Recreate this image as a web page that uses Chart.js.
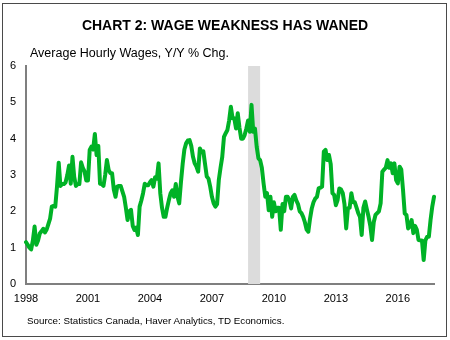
<!DOCTYPE html>
<html>
<head>
<meta charset="utf-8">
<script src="https://cdn.jsdelivr.net/npm/chart.js@4"></script>
<style>
  body { margin: 0; background: #fff; font-family: "Liberation Sans", Arial, sans-serif; }
  #wrap { position: relative; width: 450px; height: 340px; }
  #frame { position: absolute; left: 2px; top: 3px; width: 445px; height: 334px; box-sizing: border-box; border: 1.5px solid #4a4a4a; }
  #chart { position: absolute; left: 0; top: 0; }
  .txt { position: absolute; white-space: nowrap; color: #000; line-height: 1; }
  #title { left: 0; width: 450px; text-align: center; top: 18px; font-size: 14px; font-weight: bold; }
  #sub { left: 30px; top: 47px; font-size: 12.5px; }
  #src { left: 27px; top: 316px; font-size: 9.8px; }
</style>
</head>
<body>
<div id="wrap">
  <div id="frame"></div>
  <canvas id="chart" width="450" height="340"></canvas>
  <div class="txt" id="title">CHART 2: WAGE WEAKNESS HAS WANED</div>
  <div class="txt" id="sub">Average Hourly Wages, Y/Y % Chg.</div>
  <div class="txt" id="src">Source: Statistics Canada, Haver Analytics, TD Economics.</div>
</div>
<script>
// monthly, starting Jan 1998
var startYear = 1998;
var wages = [
  1.15, 1.08, 1.0, 0.95, 1.2, 1.58, 1.08, 1.2, 1.39, 1.45, 1.52, 1.42,   // 1998
  1.5, 1.65, 1.8, 2.13, 2.15, 2.13, 2.68, 3.34, 2.7, 2.75, 2.75, 2.8,    // 1999
  3.0, 3.26, 2.76, 3.5, 2.95, 2.7, 2.75, 2.75, 3.35, 3.2, 3.1, 2.85,     // 2000
  2.85, 3.69, 3.78, 3.7, 4.13, 3.55, 3.8, 2.76, 2.75, 2.7, 3.0, 3.41,    // 2001
  3.14, 3.05, 3.05, 2.6, 2.4, 2.68, 2.7, 2.7, 2.55, 2.4, 2.1, 1.76,      // 2002
  2.0, 2.04, 1.6, 1.49, 1.55, 1.35, 2.13, 2.3, 2.5, 2.76, 2.72, 2.72,    // 2003
  2.8, 2.86, 2.68, 2.94, 2.9, 3.32, 2.5, 2.1, 1.85, 1.85, 2.1, 2.31,     // 2004
  2.5, 2.58, 2.4, 2.75, 2.4, 2.22, 2.8, 3.3, 3.7, 3.87, 3.95, 3.96,      // 2005
  3.8, 3.5, 3.32, 3.23, 3.09, 3.73, 3.63, 3.65, 3.3, 2.96, 2.9, 2.68,    // 2006
  2.4, 2.22, 2.13, 2.2, 2.86, 3.2, 3.5, 4.05, 4.15, 4.24, 4.5, 4.88,     // 2007
  4.56, 4.56, 4.28, 4.7, 4.3, 4.0, 4.0, 4.1, 4.28, 4.5, 4.19, 4.93,      // 2008
  4.19, 4.28, 3.78, 3.46, 3.41, 3.2, 2.77, 2.4, 2.5, 2.03, 2.4, 1.85,    // 2009
  2.25, 2.0, 2.1, 2.1, 1.49, 2.2, 2.0, 2.4, 2.4, 2.3, 2.08, 2.4,         // 2010
  2.45, 2.3, 2.2, 2.0, 1.95, 1.85, 1.7, 1.5, 1.44, 1.8, 2.08, 2.25,      // 2011
  2.35, 2.4, 2.63, 2.65, 2.68, 3.64, 3.69, 3.41, 3.55, 3.3, 2.5, 2.45,   // 2012
  2.17, 2.31, 2.63, 2.6, 2.5, 2.2, 1.53, 2.08, 2.1, 2.5, 2.25, 2.25,     // 2013
  2.1, 1.95, 1.85, 1.35, 2.1, 2.27, 2.05, 1.85, 1.6, 1.21, 1.7, 1.9,     // 2014
  1.95, 2.0, 2.22, 3.09, 3.15, 3.2, 3.41, 3.2, 3.32, 3.05, 3.32, 2.86,   // 2015
  2.77, 3.23, 3.15, 2.59, 1.94, 1.9, 1.53, 1.6, 1.76, 1.4, 1.6, 1.5,     // 2016
  1.21, 1.2, 1.2, 0.66, 1.2, 1.3, 1.3, 1.76, 2.13, 2.4                   // 2017
];
var tickYears = [1998, 2001, 2004, 2007, 2010, 2013, 2016];
var yTicks = [0, 1, 2, 3, 4, 5, 6];
var recession = ['2008-10', '2009-05'];

var months = [];
for (var i = 0; i < wages.length; i++) {
  var y = startYear + Math.floor(i / 12);
  var m = (i % 12) + 1;
  months.push(y + '-' + (m < 10 ? '0' + m : m));
}

var shade = {
  id: 'shade',
  beforeDatasetsDraw: function(chart) {
    var x = chart.scales.x, a = chart.chartArea, ctx = chart.ctx;
    var x0 = x.getPixelForValue(months.indexOf(recession[0]));
    var x1 = x.getPixelForValue(months.indexOf(recession[1]));
    ctx.save();
    ctx.fillStyle = '#dcdcdc';
    ctx.fillRect(x0, a.top, x1 - x0, a.bottom - a.top);
    ctx.restore();
  }
};

new Chart(document.getElementById('chart'), {
  type: 'line',
  data: {
    labels: months,
    datasets: [{
      data: wages,
      borderColor: '#00b226',
      borderWidth: 4,
      pointRadius: 0,
      tension: 0,
      borderJoinStyle: 'round',
      borderCapStyle: 'round'
    }]
  },
  options: {
    responsive: false,
    animation: false,
    layout: { padding: { top: 66, right: 16, left: 0, bottom: 0 } },
    plugins: { legend: { display: false }, tooltip: { enabled: false } },
    scales: {
      x: {
        grid: { drawOnChartArea: false, drawTicks: false },
        border: { color: '#7f7f7f', width: 2 },
        afterFit: function(s) { s.height = 56; },
        ticks: {
          autoSkip: false,
          maxRotation: 0,
          padding: 8,
          color: '#000',
          font: { family: 'Liberation Sans', size: 11 },
          callback: function(v, i) {
            var lab = months[i];
            if (lab.slice(5) !== '01') return null;
            var yr = parseInt(lab.slice(0, 4));
            return tickYears.indexOf(yr) >= 0 ? String(yr) : null;
          }
        }
      },
      y: {
        min: 0,
        max: 6,
        grid: { drawOnChartArea: false, drawTicks: false },
        border: { color: '#7f7f7f', width: 2 },
        afterFit: function(s) { s.width = 26; },
        afterBuildTicks: function(s) { s.ticks = yTicks.map(function(v) { return { value: v }; }); },
        ticks: {
          padding: 10,
          color: '#000',
          font: { family: 'Liberation Sans', size: 11 }
        }
      }
    }
  },
  plugins: [shade]
});
</script>
</body>
</html>
